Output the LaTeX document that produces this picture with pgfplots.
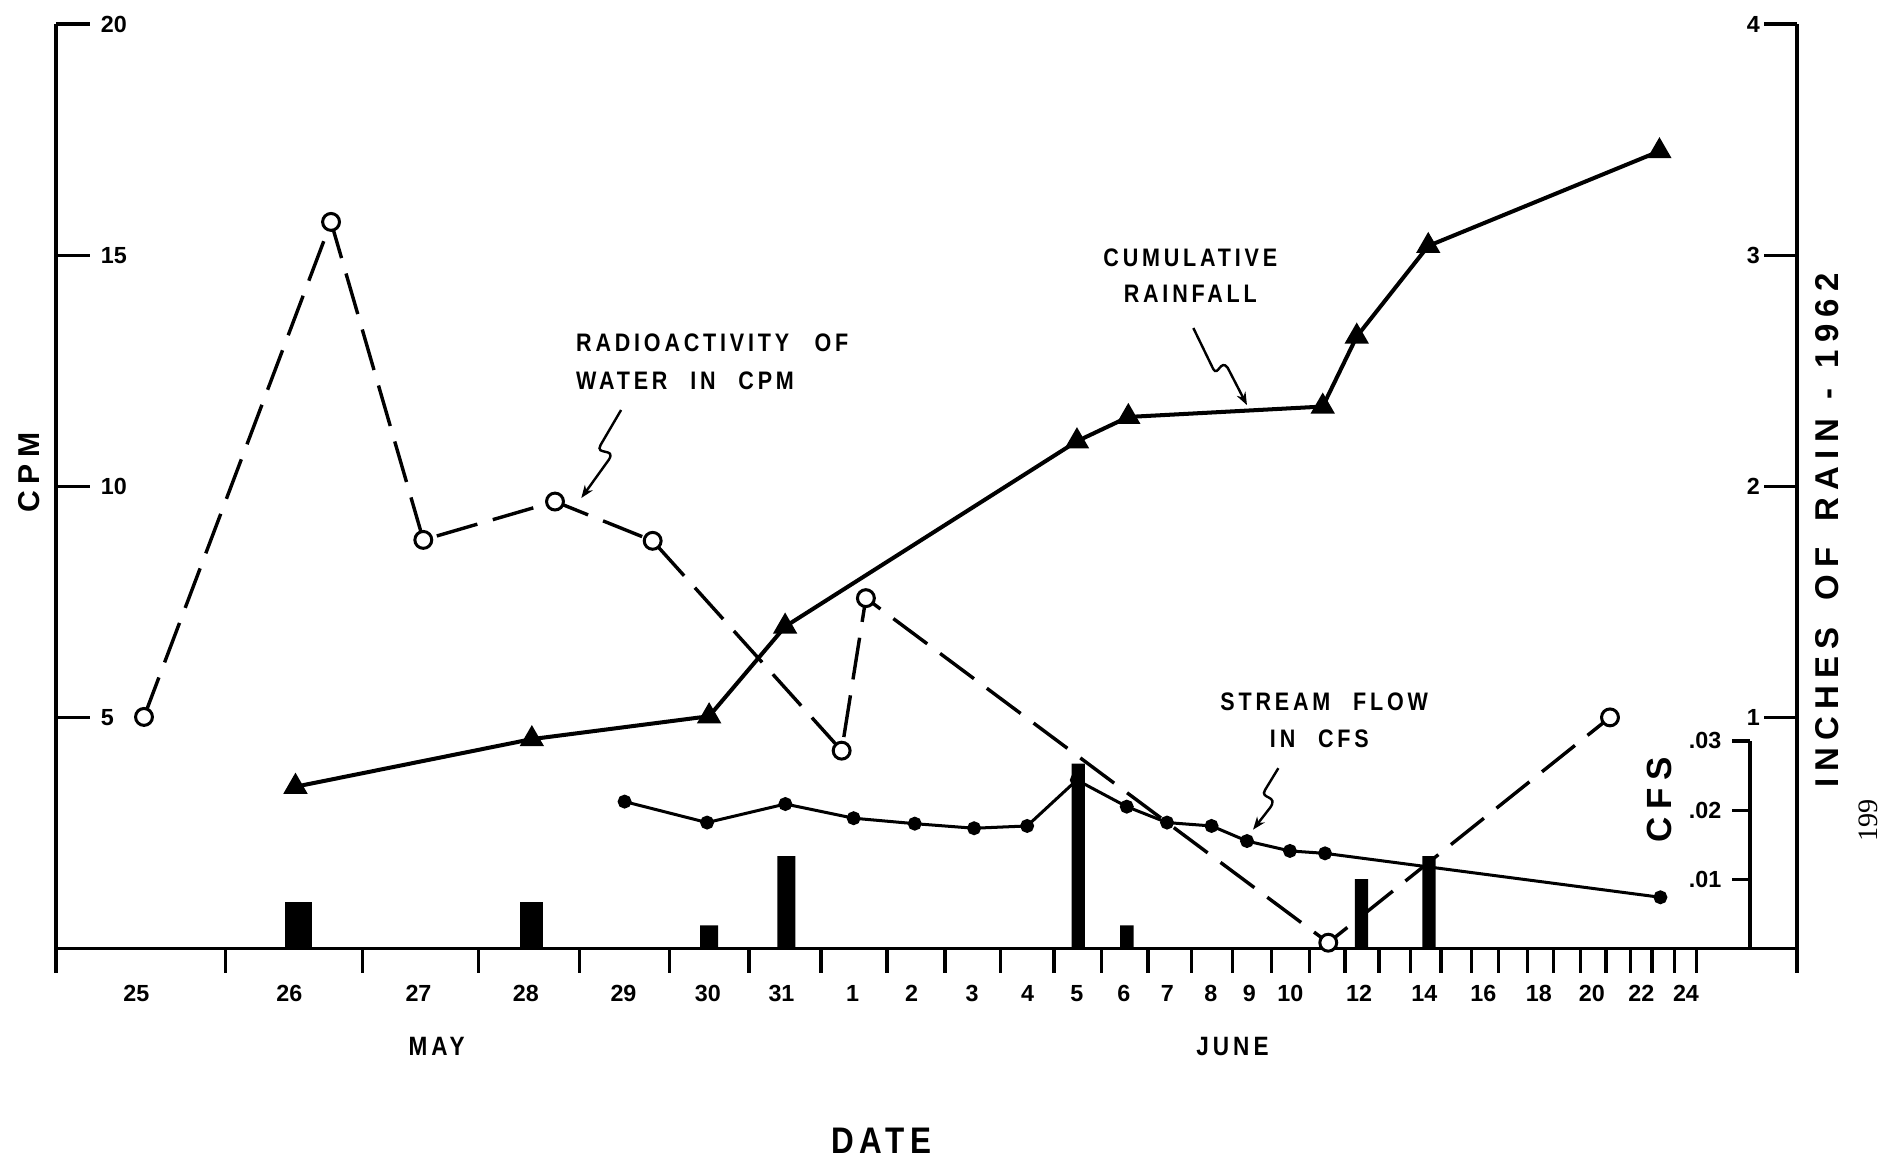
\documentclass[border=0pt]{standalone}
\usepackage{fontspec}
\setmainfont{Liberation Sans}
\newfontfamily\lett{Liberation Sans}[FakeStretch=0.85, LetterSpace=15]
\newfontfamily\wide{Liberation Sans}[LetterSpace=22]
\newfontfamily\pagefont{Liberation Serif}
\usepackage{pgfplots}
\pgfplotsset{compat=1.18}
\usetikzlibrary{arrows.meta}

\newcommand{\ticks}{\fontsize{5.8pt}{6pt}\selectfont\bfseries}
\newcommand{\note}{\fontsize{6.3pt}{7pt}\selectfont\lett\bfseries}

\pgfplotsset{
  base/.style={
    scale only axis, clip=false,
    xmin=46.5, xmax=1490, ymin=0,
    at={(13.95pt,52.65pt)}, anchor=south west,
    width=433.05pt,
    axis line style={-, line width=0.95pt},
    tick style={line width=0.8pt, black},
    tick align=inside,
    tick label style={font=\ticks},
    scaled y ticks=false,
    /pgf/number format/assume math mode=true,
  },
}

\begin{document}
\begin{tikzpicture}[x=0.3pt,y=0.3pt]
\path[use as bounding box] (0,0) rectangle (1568,962);

% ---- date axis ----
\begin{axis}[base, height=229.95pt, ymax=20,
  axis y line=none, axis x line*=bottom, xtick pos=bottom,
  tick align=outside, major tick length=6pt,
  xtick={46.5,186.9,300.4,396.9,480.8,555.1,621,680.8,735.5,783.6,829.7,874,913.2,951.9,988.2,1022.3,1054.6,1085.7,1115.3,1143.5,1169.7,1194.9,1220,1242.6,1266.3,1288.4,1310.6,1331.7,1351.8,1369.8,1388.4,1407,1490},
  xticklabels={},
  extra x ticks={113,240,347,436,517,587,648,707,756,806,852,893,932,968,1004,1036,1070,1127,1181,1230,1276,1320,1361,1398},
  extra x tick labels={25,26,27,28,29,30,31,1,2,3,4,5,6,7,8,9,10,12,14,16,18,20,22,24},
  extra x tick style={major tick length=0pt, xticklabel style={anchor=center, yshift=-11.25pt}},
]
\end{axis}

% ---- rainfall in inches ----
\begin{axis}[base, height=229.95pt, ymax=4,
  axis x line=none, axis y line*=right, xtick=\empty, ytick pos=right,
  ytick={1,2,3,4}, yticklabels={1,2,3,4}, major tick length=8.1pt,
  yticklabel style={anchor=east, inner sep=0pt, xshift=-9pt},
]
% daily rainfall
\addplot[ybar, bar shift=0pt, bar width=22, fill=black, draw=none] coordinates {(247.5,0.2)};
\addplot[ybar, bar shift=0pt, bar width=19, fill=black, draw=none] coordinates {(440.5,0.2)};
\addplot[ybar, bar shift=0pt, bar width=15, fill=black, draw=none] coordinates {(588,0.1) (652,0.4)};
\addplot[ybar, bar shift=0pt, bar width=11, fill=black, draw=none] coordinates {(894,0.8) (934.4,0.1) (1129,0.3) (1185,0.4)};
% cumulative rainfall
\addplot[black, line width=1pt, mark=triangle*, mark size=2.5pt] coordinates {
  (245,0.70) (441,0.906) (588,1.005) (651,1.393) (893,2.195)
  (935.6,2.30) (1096.8,2.345) (1125,2.648) (1184.3,3.04) (1376,3.45)};
\end{axis}

% ---- stream flow in cfs ----
\begin{axis}[base, xmax=1451, width=421.35pt, height=51.63pt, ymax=0.03,
  axis x line=none, axis y line*=right, xtick=\empty, ytick pos=right,
  ytick={0.01,0.02,0.03}, yticklabels={.01,.02,.03}, major tick length=4.5pt,
  yticklabel style={anchor=east, inner sep=0pt, xshift=-6.9pt},
]
\addplot[black, line width=0.75pt, mark=*, mark size=1.35pt] coordinates {
  (517.9,0.02123) (586.3,0.0182) (651.2,0.02088) (707.8,0.01883) (758.5,0.01804)
  (807.7,0.01738) (851.7,0.01771) (892.9,0.02435) (934.3,0.0205) (967.7,0.0182)
  (1004.6,0.01771) (1034,0.01553) (1069.6,0.0141) (1098.7,0.01375) (1376.8,0.0074)};
\end{axis}

% ---- radioactivity in cpm ----
\begin{axis}[base, height=229.95pt, ymax=20,
  axis x line=none, axis y line*=left, xtick=\empty, ytick pos=left,
  ytick={5,10,15,20}, yticklabels={5,10,15,20}, major tick length=8.55pt,
  yticklabel style={anchor=west, inner sep=0pt, xshift=10.95pt},
]
\addplot[black, line width=0.85pt, dash pattern=on 10.5pt off 4pt,
  mark=*, mark size=2.1pt, mark options={solid, fill=white, line width=0.75pt}] coordinates {
  (119.4,5.01) (274.5,15.72) (351,8.84) (460.2,9.67) (541.2,8.82)
  (697.9,4.28) (718,7.58) (1101.4,0.125) (1335,5.0)};
\end{axis}

% ---- labels and notes ----
\begin{scope}[shift={(0,962)}, yscale=-1]
  \node[font=\note, anchor=west] at (466,284.5) {RADIOACTIVITY\hspace{1em}OF};
  \node[font=\note, anchor=west] at (466,316) {WATER\hspace{0.9em}IN\hspace{0.9em}CPM};
  \node[font=\note] at (987,213.5) {CUMULATIVE};
  \node[font=\note] at (987,244) {RAINFALL};
  \node[font=\note] at (1098,582) {STREAM\hspace{0.9em}FLOW};
  \node[font=\note] at (1094,612.5) {IN\hspace{0.9em}CFS};

  \draw[line width=0.6pt, -{Stealth[length=3.2pt, width=2.4pt]}]
    (515,340) -- (498,369) .. controls (493,378) and (511,371) .. (505,381) -- (482,413);
  \draw[line width=0.6pt, -{Stealth[length=3.2pt, width=2.4pt]}]
    (989.5,272) -- (1006,306) .. controls (1010,313) and (1012,297) .. (1018,305) -- (1034,336);
  \draw[line width=0.6pt, -{Stealth[length=3.2pt, width=2.4pt]}]
    (1060,637) -- (1049,655) .. controls (1044,663) and (1061,659) .. (1053,670) -- (1039,688);

  \node[font=\fontsize{7.5pt}{8pt}\selectfont\wide\bfseries, rotate=90] at (24,392) {CPM};
  \node[font=\fontsize{8.2pt}{9pt}\selectfont\wide\bfseries, rotate=90] at (1515,440) {INCHES\hspace{0.8em}OF\hspace{0.8em}RAIN\hspace{0.6em}-\hspace{0.6em}1962};
  \node[font=\fontsize{8.7pt}{9pt}\selectfont\wide\bfseries, rotate=90] at (1376,663) {CFS};
  \node[font=\fontsize{7pt}{8pt}\selectfont\pagefont, rotate=90] at (1549,680) {199};

  \node[font=\fontsize{6.6pt}{7pt}\selectfont\lett\bfseries] at (362,868) {MAY};
  \node[font=\fontsize{6.6pt}{7pt}\selectfont\lett\bfseries] at (1022,868) {JUNE};
  \node[font=\fontsize{9.2pt}{10pt}\selectfont\lett\bfseries] at (731,946) {DATE};
\end{scope}
\end{tikzpicture}
\end{document}
